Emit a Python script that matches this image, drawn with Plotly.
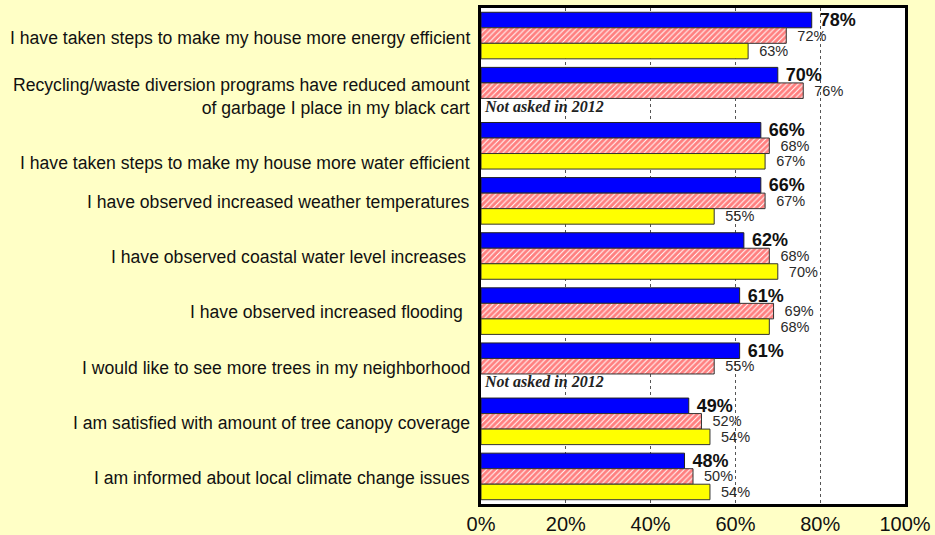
import plotly.graph_objects as go

# Survey statements (top to bottom)
statements = [
    "I have taken steps to make my house more energy efficient",
    "Recycling/waste diversion programs have reduced amount<br>of garbage I place in my black cart",
    "I have taken steps to make my house more water efficient",
    "I have observed increased weather temperatures",
    "I have observed coastal water level increases",
    "I have observed increased flooding",
    "I would like to see more trees in my neighborhood",
    "I am satisfied with amount of tree canopy coverage",
    "I am informed about local climate change issues",
]

# Percent agreeing, by survey year (None = question not asked)
pct_2016 = [78, 70, 66, 66, 62, 61, 61, 49, 48]
pct_2014 = [72, 76, 68, 67, 68, 69, 55, 52, 50]
pct_2012 = [63, None, 67, 55, 70, 68, None, 54, 54]

x_ticks = [0, 20, 40, 60, 80, 100]
x_tick_text = ["0%", "20%", "40%", "60%", "80%", "100%"]

cats = list(range(len(statements)))
BARGAP = 0.155
GROUP_PX = 496 / len(statements)
BAR_PX = GROUP_PX * (1 - BARGAP) / 3

# vertical nudges (px) for the statement labels
label_nudge = {0: -2, 1: -6, 2: -17, 3: -1, 4: -1, 5: -1, 6: -2, 7: -2, 8: -2}
# trailing gap (px) for labels that stop short of the axis
label_gap = {4: 13, 5: 16}

fig = go.Figure()

fig.add_trace(go.Bar(
    name="2016", y=cats, x=pct_2016, orientation="h",
    marker=dict(color="#0000FF", line=dict(color="#222222", width=1)),
    text=[f" {v}%" for v in pct_2016], textposition="outside",
    textfont=dict(family="Liberation Sans, Arial", size=18, color="#111111", weight="bold"),
    constraintext="none", cliponaxis=False,
))
fig.add_trace(go.Bar(
    name="2014", y=cats, x=pct_2014, orientation="h",
    marker=dict(color="white", line=dict(color="#333333", width=1),
                pattern=dict(shape="/", fgcolor="#FF0000", bgcolor="white", size=4, solidity=0.75)),
    text=[f"  {v}%" for v in pct_2014], textposition="outside",
    textfont=dict(family="Liberation Sans, Arial", size=14.5, color="#2a2a2a"),
    constraintext="none", cliponaxis=False,
))
fig.add_trace(go.Bar(
    name="2012", y=cats, x=pct_2012, orientation="h",
    marker=dict(color="#FFFF00", line=dict(color="#333333", width=1)),
    text=[f"  {v}%" if v is not None else "" for v in pct_2012], textposition="outside",
    textfont=dict(family="Liberation Sans, Arial", size=14.5, color="#2a2a2a"),
    constraintext="none", cliponaxis=False,
))

annotations = []
for i, s in enumerate(statements):
    annotations.append(dict(
        xref="paper", yref="y", x=0, y=i, xanchor="right", yanchor="middle",
        xshift=-label_gap.get(i, 9), yshift=label_nudge.get(i, -2),
        text=s, showarrow=False, align="right",
        font=dict(family="Liberation Sans, Arial", size=17.6, color="#111111"),
    ))
    if pct_2012[i] is None:
        annotations.append(dict(
            xref="x", yref="y", x=0, y=i, xanchor="left", yanchor="middle",
            xshift=1, yshift=-BAR_PX,
            text="<b><i>Not asked in 2012</i></b>", showarrow=False,
            font=dict(family="Liberation Serif, Times New Roman", size=16, color="#222222"),
        ))

fig.update_layout(
    width=935, height=535,
    margin=dict(l=481, r=30, t=8, b=31, autoexpand=False),
    paper_bgcolor="#FFFFC6", plot_bgcolor="white",
    barmode="group", bargap=BARGAP, bargroupgap=0,
    showlegend=False,
    annotations=annotations,
    xaxis=dict(
        range=[0, 100], tickvals=x_ticks, ticktext=x_tick_text,
        showgrid=True, gridcolor="#555555", griddash="dot", gridwidth=1,
        showline=True, mirror=True, linecolor="black", linewidth=2.5,
        ticks="", ticklabelstandoff=0, zeroline=False,
        tickfont=dict(family="Liberation Sans, Arial", size=20, color="#111111"),
        automargin=False,
    ),
    yaxis=dict(
        range=[len(statements) - 0.5, -0.5],
        showticklabels=False, showgrid=False, zeroline=False,
        showline=True, mirror=True, linecolor="black", linewidth=2.5,
        automargin=False,
    ),
)

fig.write_html("out.html")
